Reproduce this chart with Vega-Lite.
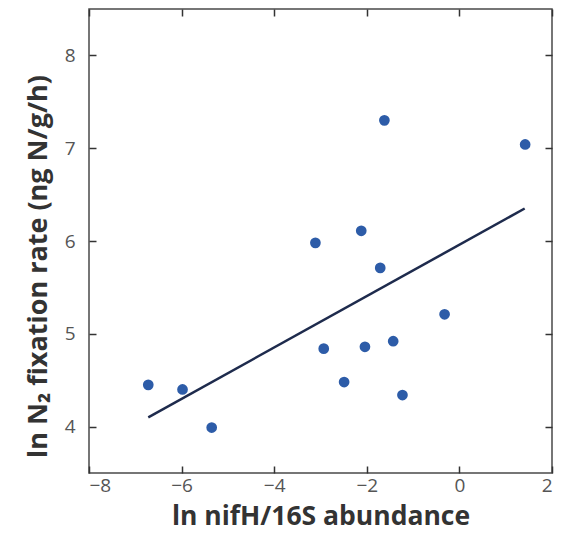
{
  "$schema": "https://vega.github.io/schema/vega-lite/v6.json",
  "width": 463,
  "height": 464,
  "autosize": "none",
  "padding": {"left": 89, "top": 9, "right": 23, "bottom": 77},
  "background": "white",
  "config": {
    "view": {"stroke": "#4a4a4a", "strokeWidth": 1.5},
    "axis": {
      "grid": false,
      "domain": false,
      "tickSize": -7,
      "tickColor": "#333333",
      "tickWidth": 1.5,
      "labelFont": "Open Sans",
      "labelFontSize": 19,
      "labelColor": "#555555",
      "titleFont": "Open Sans",
      "titleFontWeight": "bold",
      "titleFontSize": 26.5,
      "titleColor": "#333333"
    }
  },
  "datasets": {
    "pts": [
      {"x": -6.72, "y": 4.45},
      {"x": -5.98, "y": 4.40},
      {"x": -5.35, "y": 3.99},
      {"x": -3.11, "y": 5.98},
      {"x": -2.12, "y": 6.11},
      {"x": -1.62, "y": 7.30},
      {"x": 1.42, "y": 7.04},
      {"x": -1.71, "y": 5.71},
      {"x": -2.93, "y": 4.84},
      {"x": -2.04, "y": 4.86},
      {"x": -2.49, "y": 4.48},
      {"x": -1.43, "y": 4.92},
      {"x": -1.23, "y": 4.34},
      {"x": -0.32, "y": 5.21}
    ],
    "fit": [
      {"x": -6.72, "y": 4.10},
      {"x": 1.41, "y": 6.35}
    ]
  },
  "layer": [
    {
      "data": {"name": "pts"},
      "mark": {"type": "circle", "size": 115, "opacity": 1, "color": "#2d5ca8"},
      "encoding": {
        "x": {"field": "x", "type": "quantitative", "scale": {"domain": [-8, 2], "nice": false, "zero": false},
              "axis": {"values": [-8, -6, -4, -2, 0, 2], "orient": "bottom", "labelPadding": 10, "titlePadding": 8, "title": "ln nifH/16S abundance"}},
        "y": {"field": "y", "type": "quantitative", "scale": {"domain": [3.5, 8.5], "nice": false, "zero": false},
              "axis": {"values": [4, 5, 6, 7, 8], "orient": "left", "labelPadding": 21, "titlePadding": 12, "titleFontSize": 27, "titleY": 257, "title": "ln N₂ fixation rate (ng N/g/h)"}}
      }
    },
    {
      "data": {"name": "fit"},
      "mark": {"type": "line", "color": "#1e2b4d", "strokeWidth": 2.5},
      "encoding": {
        "x": {"field": "x", "type": "quantitative", "axis": null},
        "y": {"field": "y", "type": "quantitative", "axis": null}
      }
    },
    {
      "data": {"name": "pts"},
      "mark": {"type": "circle", "opacity": 0},
      "encoding": {
        "x": {"field": "x", "type": "quantitative", "axis": {"values": [-8, -6, -4, -2, 0, 2], "orient": "top", "labels": false, "title": null}},
        "y": {"field": "y", "type": "quantitative", "axis": {"values": [4, 5, 6, 7, 8], "orient": "right", "labels": false, "title": null}}
      }
    }
  ],
  "resolve": {"axis": {"x": "independent", "y": "independent"}}
}
